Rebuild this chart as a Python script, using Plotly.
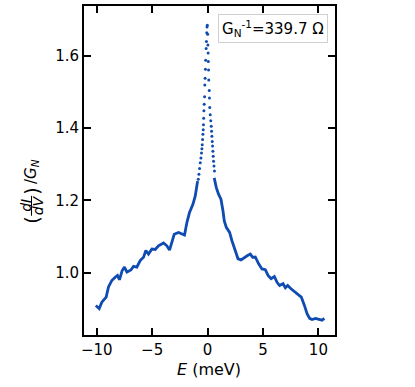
import plotly.graph_objects as go

# flanks (dense, drawn as a continuous trace)
E_LEFT = [-10.08, -9.78, -9.54, -9.15, -8.94, -8.64, -8.34, -8.13, -7.95, -7.71,
          -7.50, -7.28, -6.92, -6.68, -6.38, -6.08, -5.78, -5.57, -5.33, -5.02,
          -4.72, -4.43, -3.97, -3.67, -3.43, -3.22, -3.01, -2.62, -2.31, -2.08,
          -1.86, -1.63, -1.32, -1.11, -0.90]
G_LEFT = [0.909, 0.900, 0.918, 0.932, 0.960, 0.978, 0.987, 0.992, 0.980, 1.005,
          1.015, 1.001, 1.007, 1.017, 1.015, 1.033, 1.042, 1.061, 1.051, 1.065,
          1.064, 1.074, 1.082, 1.074, 1.062, 1.088, 1.106, 1.111, 1.108, 1.104,
          1.139, 1.166, 1.189, 1.212, 1.253]

E_RIGHT = [0.60, 0.79, 0.99, 1.21, 1.39, 1.51, 1.69, 1.99, 2.20, 2.50,
           2.75, 3.02, 3.32, 3.61, 3.86, 4.07, 4.31, 4.61, 4.91, 5.21,
           5.46, 5.73, 6.03, 6.27, 6.50, 6.81, 7.02, 7.23, 7.53, 7.92,
           8.22, 8.46, 8.74, 8.98, 9.21, 9.43, 9.73, 10.03, 10.33, 10.54]
G_RIGHT = [1.262, 1.235, 1.217, 1.203, 1.171, 1.143, 1.125, 1.111, 1.088, 1.061,
           1.038, 1.035, 1.042, 1.047, 1.051, 1.042, 1.043, 1.024, 1.010, 1.008,
           0.992, 0.983, 0.989, 0.973, 0.964, 0.969, 0.958, 0.964, 0.955, 0.946,
           0.937, 0.932, 0.909, 0.886, 0.873, 0.870, 0.873, 0.870, 0.868, 0.873]

# sparse points around the zero-bias peak
E_PEAK = [-0.84, -0.78, -0.72, -0.66, -0.60, -0.55, -0.51, -0.48, -0.45, -0.42,
          -0.39, -0.37, -0.35, -0.33, -0.30, -0.27, -0.25, -0.22, -0.19, -0.17,
          -0.13, -0.10, -0.07, -0.05,
          -0.02, 0.01, 0.03, 0.05, 0.07, 0.09, 0.11, 0.15, 0.17, 0.20,
          0.24, 0.29, 0.33, 0.36, 0.39, 0.42, 0.45, 0.48, 0.51, 0.54, 0.58, 0.62]
G_PEAK = [1.258, 1.272, 1.288, 1.304, 1.317, 1.331, 1.343, 1.354, 1.368, 1.383,
          1.395, 1.409, 1.427, 1.448, 1.466, 1.487, 1.519, 1.538, 1.563, 1.588,
          1.620, 1.640, 1.664, 1.680,
          1.685, 1.660, 1.630, 1.608, 1.584, 1.561, 1.533, 1.504, 1.483, 1.457,
          1.437, 1.420, 1.405, 1.391, 1.377, 1.363, 1.350, 1.336, 1.322, 1.308,
          1.295, 1.281]

X_TICKS = [-10, -5, 0, 5, 10]
Y_TICKS = [1.0, 1.2, 1.4, 1.6]

BLUE = "#0f4bb0"
FONT = "DejaVu Sans"

fig = go.Figure()
for ex, gy in [(E_LEFT, G_LEFT), (E_RIGHT, G_RIGHT)]:
    fig.add_trace(go.Scatter(x=ex, y=gy, mode="lines",
                             line=dict(color=BLUE, width=2.8), showlegend=False))
fig.add_trace(go.Scatter(x=E_PEAK, y=G_PEAK, mode="markers",
                         marker=dict(color=BLUE, size=3), showlegend=False))

axis_common = dict(
    showgrid=False, zeroline=False, showline=True, linecolor="black", linewidth=2,
    mirror="allticks", ticks="inside", ticklen=7, tickwidth=2, tickcolor="black",
    tickfont=dict(family=FONT, size=15, color="black"),
)
fig.update_xaxes(range=[-11.15, 11.5], tickvals=X_TICKS, **axis_common)
fig.update_yaxes(range=[0.827, 1.738], tickvals=Y_TICKS, tickformat=".1f", **axis_common)

# plot area in pixels: x 84..335, y 4..335
W, H = 415, 387
L, R, T, B = 84, 335, 4, 335
def px(x):
    return (x - L) / (R - L)
def py(y):
    return (B - y) / (B - T)

ann = [
    dict(text="<i>E</i> (meV)", x=px(209), y=py(370), font=dict(size=16)),
    dict(text="(", x=px(32), y=py(220), font=dict(size=19), textangle=-90),
    dict(text="<i>dI</i>", x=px(26), y=py(205), font=dict(size=14), textangle=-90),
    dict(text="<i>dV</i>", x=px(37.5), y=py(205), font=dict(size=14), textangle=-90),
    dict(text=")", x=px(32), y=py(191), font=dict(size=19), textangle=-90),
    dict(text="/<i>G<sub>N</sub></i>", x=px(32), y=py(171), font=dict(size=15),
         textangle=-90),
    dict(text="G<sub>N</sub><sup>-1</sup>=339.7 Ω", x=px(328), y=py(12),
         xanchor="right", yanchor="top", font=dict(size=15),
         bordercolor="#d0d0d0", borderwidth=1, borderpad=3, bgcolor="white"),
]
for a in ann:
    a.setdefault("xanchor", "center")
    a.setdefault("yanchor", "middle")
    a["font"].update(family=FONT, color="black")
    fig.add_annotation(xref="paper", yref="paper", showarrow=False, **a)

fig.add_shape(type="line", xref="paper", yref="paper",
              x0=px(31.5), x1=px(31.5), y0=py(195), y1=py(215),
              line=dict(color="black", width=1))

fig.update_layout(
    width=W, height=H,
    margin=dict(l=L, r=W - R, t=T, b=H - B),
    plot_bgcolor="white", paper_bgcolor="white",
    font=dict(family=FONT, color="black"),
)

fig.write_html("out.html", config={"displayModeBar": False},
               post_script="document.body.style.margin='0';")
